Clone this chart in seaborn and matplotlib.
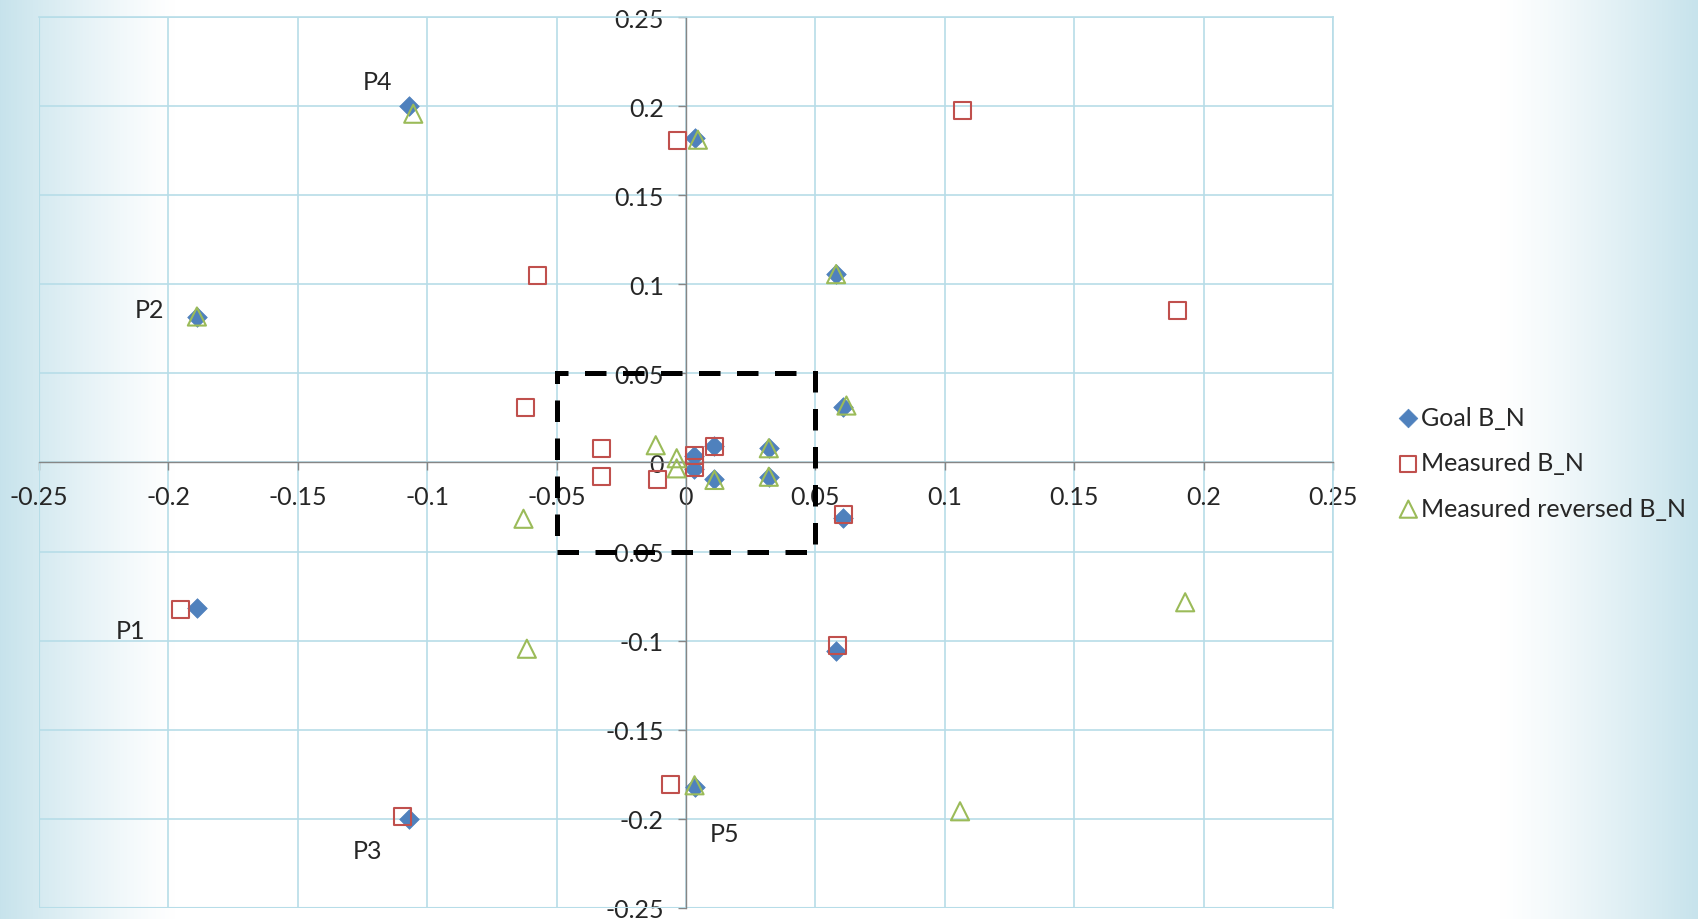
import numpy as np
import matplotlib
matplotlib.use("Agg")
import matplotlib.pyplot as plt
import seaborn as sns
from matplotlib.patches import Rectangle

# Data
goal_x = [-0.189, -0.189, -0.107, -0.107, 0.0035, 0.0035, 0.058, 0.058,
          0.0607, 0.0607, 0.032, 0.032, 0.011, 0.011, 0.0032, 0.0032]
goal_y = [-0.082, 0.082, -0.2, 0.2, -0.182, 0.182, -0.106, 0.106,
          -0.031, 0.031, -0.008, 0.008, -0.0095, 0.0095, -0.0035, 0.0035]

meas_x = [-0.1954, -0.0573, -0.1096, -0.0033, -0.0059, 0.1067, 0.0586, 0.19,
          -0.0619, 0.0607, -0.0325, -0.0325, -0.011, 0.011, 0.0032, 0.0032]
meas_y = [-0.0827, 0.1052, -0.199, 0.1807, -0.1807, 0.1977, -0.1028, 0.0852,
          0.031, -0.029, 0.008, -0.008, -0.0097, 0.009, 0.004, -0.003]

rev_x = [-0.189, -0.0615, -0.1054, 0.0046, 0.0033, 0.1059, 0.058, 0.1929,
         0.062, -0.0628, 0.032, 0.032, 0.011, -0.0117, -0.0036, -0.0036]
rev_y = [0.082, -0.1046, 0.1959, 0.1813, -0.1813, -0.1959, 0.1058, -0.0785,
         0.032, -0.0316, 0.008, -0.008, -0.0098, 0.0097, 0.0024, -0.0033]

series_names = ["Goal B_N", "Measured B_N", "Measured reversed B_N"]

# labelled goal points (index into goal arrays)
point_labels = ["P1", "P2", "P3", "P4", "P5"]
label_index = [0, 1, 2, 3, 4]

ticks = [-0.25, -0.2, -0.15, -0.1, -0.05, 0, 0.05, 0.1, 0.15, 0.2, 0.25]
tick_labels = ["-0.25", "-0.2", "-0.15", "-0.1", "-0.05", "0",
               "0.05", "0.1", "0.15", "0.2", "0.25"]
box_half = 0.05

sns.set_style("white")
plt.rcParams['font.family'] = ['Lato', 'DejaVu Sans']
plt.rcParams['axes.unicode_minus'] = False

fig = plt.figure(figsize=(16.98, 9.2), dpi=100)

# background gradient (blue at both edges)
w = 1698
xs = np.arange(w)
t = np.clip(1 - xs / 175.0, 0, 1) ** 1.2 + np.clip((xs - 1500) / 198.0, 0, 1) ** 1.2
t = np.clip(t, 0, 1)
blue = np.array([0.78, 0.89, 0.925])
white = np.array([1.0, 1.0, 1.0])
grad = white[None, :] * (1 - t[:, None]) + blue[None, :] * t[:, None]
bg = fig.add_axes([0, 0, 1, 1], zorder=-10)
bg.imshow(grad[None, :, :], aspect='auto', extent=[0, 1, 0, 1])
bg.axis('off')

ax = fig.add_axes([0.023, 0.0124, 0.762, 0.9676])
ax.set_facecolor('none')

sns.scatterplot(x=goal_x, y=goal_y, marker='D', s=100, color='#4f81bd',
                edgecolor='#4f81bd', linewidth=0.5, ax=ax, label=series_names[0], zorder=3)
sns.scatterplot(x=meas_x, y=meas_y, marker='s', s=150, facecolor='none',
                edgecolor='#c0504d', linewidth=1.5, ax=ax, label=series_names[1], zorder=4)
sns.scatterplot(x=rev_x, y=rev_y, marker='^', s=170, facecolor='none',
                edgecolor='#9bbb59', linewidth=1.5, ax=ax, label=series_names[2], zorder=5)

# dashed box around the central region
ax.add_patch(Rectangle((-box_half, -box_half), 2 * box_half, 2 * box_half,
                       fill=False, edgecolor='black', linewidth=3.6,
                       linestyle=(0, (4.3, 3.3)), zorder=6))

# point labels
offsets = [(-48, -16), (-34, 5), (-30, -23), (-23, 18), (21, -34)]
for lab, idx, off in zip(point_labels, label_index, offsets):
    ax.annotate(lab, (goal_x[idx], goal_y[idx]), xytext=off, textcoords='offset points',
                ha='center', va='center', fontsize=18)

ax.set_xlim(-0.25, 0.25)
ax.set_ylim(-0.25, 0.25)
ax.set_xticks(ticks)
ax.set_xticklabels(tick_labels)
ax.set_yticks(ticks)
ax.set_yticklabels(tick_labels)
ax.grid(True, color='#b7dde8', linewidth=1.2)
ax.set_axisbelow(True)

for side in ['top', 'right']:
    ax.spines[side].set_color('#b7dde8')
    ax.spines[side].set_linewidth(1.2)
for side in ['left', 'bottom']:
    ax.spines[side].set_position('zero')
    ax.spines[side].set_color('#868686')
    ax.spines[side].set_linewidth(1.0)
ax.tick_params(axis='both', direction='out', length=6, width=1, color='#868686',
               labelsize=18, pad=10, left=True, bottom=True)

# outer border lines on left/bottom drawn as grid-colored lines
ax.axvline(-0.25, color='#b7dde8', linewidth=1.5, zorder=1)
ax.axhline(-0.25, color='#b7dde8', linewidth=1.5, zorder=1)

ax.legend_.remove()
handles, labels = ax.get_legend_handles_labels()
fig.legend(handles, labels, loc='center left', bbox_to_anchor=(0.811, 0.496),
           frameon=False, fontsize=18, handlelength=0.7, handletextpad=0.15,
           labelspacing=0.9, markerscale=0.95)

fig.savefig("out.png", dpi=100)
